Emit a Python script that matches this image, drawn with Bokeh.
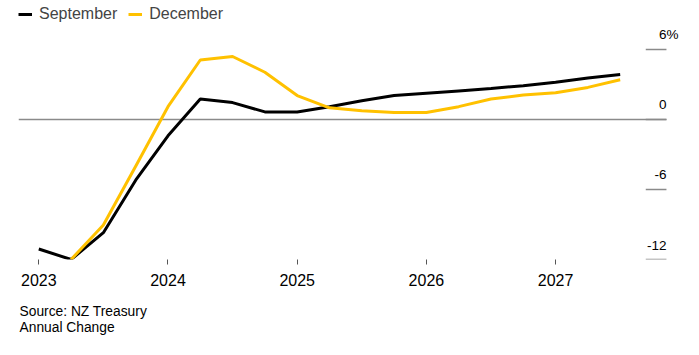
from bokeh.plotting import figure
from bokeh.models import (Range1d, FixedTicker, Legend, LegendItem,
                          LabelSet, ColumnDataSource, Title)
from bokeh.core.properties import value
from bokeh.embed import file_html
from bokeh.resources import INLINE

# ---- data ----
sep_x = [2023.0, 2023.25, 2023.5, 2023.75, 2024.0, 2024.25, 2024.5, 2024.75,
         2025.0, 2025.25, 2025.5, 2025.75, 2026.0, 2026.25, 2026.5, 2026.75,
         2027.0, 2027.25, 2027.5]
sep_y = [-11.1, -12.0, -9.7, -5.2, -1.4, 1.75, 1.45, 0.65,
         0.65, 1.1, 1.6, 2.05, 2.25, 2.45, 2.65, 2.9,
         3.2, 3.55, 3.85]
dec_x = [2023.25, 2023.5, 2023.75, 2024.0, 2024.25, 2024.5, 2024.75,
         2025.0, 2025.25, 2025.5, 2025.75, 2026.0, 2026.25, 2026.5, 2026.75,
         2027.0, 2027.25, 2027.5]
dec_y = [-12.0, -9.05, -4.0, 1.1, 5.1, 5.4, 4.05,
         2.05, 1.0, 0.75, 0.6, 0.6, 1.1, 1.75, 2.1,
         2.3, 2.75, 3.4]
x_ticks = [2023, 2024, 2025, 2026, 2027]
y_ticks = [6, 0, -6, -12]
y_tick_labels = ["6", "0", "-6", "-12"]
y_unit = "%"
series_names = ["September", "December"]
series_colors = ["#000000", "#FFC100"]
source_lines = ["Source: NZ Treasury", "Annual Change"]

FONT = "Liberation Sans"
GRAY = "#8a8a8a"
X0, X1 = 2022.843, 2027.990     # frame edges
X_AX = 2027.858                 # right edge of the value axis
TICK_LEN_YEARS = 0.160          # length of the value-axis tick marks
Y0, Y1 = -12.0, 9.771

p = figure(width=683, height=339, output_backend="svg", toolbar_location=None,
           x_range=Range1d(X0, X1), y_range=Range1d(Y0, Y1),
           y_axis_location=None, min_border_left=18, min_border_right=0,
           min_border_top=5, min_border_bottom=80)
p.outline_line_color = None
p.xgrid.visible = False
p.ygrid.visible = False

# zero line and value-axis tick marks
p.segment(x0=[X0], x1=[X_AX], y0=[0], y1=[0], line_color=GRAY, line_width=1.4)
p.segment(x0=[X_AX - TICK_LEN_YEARS] * len(y_ticks), x1=[X_AX] * len(y_ticks),
          y0=y_ticks, y1=y_ticks, line_color=GRAY, line_width=1.4)

r_sep = p.line(sep_x, sep_y, line_color=series_colors[0], line_width=3)
r_dec = p.line(dec_x, dec_y, line_color=series_colors[1], line_width=3)

# x axis
xa = p.xaxis[0]
xa.ticker = FixedTicker(ticks=x_ticks)
xa.minor_tick_line_color = None
xa.axis_line_color = None
xa.major_tick_in = 0
xa.major_tick_out = 5
xa.major_tick_line_color = "#555555"
xa.major_label_text_font = FONT
xa.major_label_text_font_size = "16px"
xa.major_label_text_color = "#000000"
xa.major_label_standoff = 9

# value labels above the tick marks
src = ColumnDataSource(dict(x=[X_AX] * len(y_ticks), y=y_ticks, t=y_tick_labels))
p.add_layout(LabelSet(x="x", y="y", text="t", source=src, text_align="right",
                      text_baseline="alphabetic", y_offset=10,
                      text_font=value(FONT), text_font_size=value("13.5px"),
                      text_color="#000000"))
unit_src = ColumnDataSource(dict(x=[X_AX], y=[y_ticks[0]], t=[y_unit]))
p.add_layout(LabelSet(x="x", y="y", text="t", source=unit_src, text_align="left",
                      text_baseline="alphabetic", y_offset=10,
                      text_font=value(FONT), text_font_size=value("13.5px"),
                      text_color="#000000"))

legend = Legend(items=[LegendItem(label=series_names[0], renderers=[r_sep]),
                       LegendItem(label=series_names[1], renderers=[r_dec])],
                orientation="horizontal", location="top_left",
                margin=0, padding=0, spacing=11, glyph_width=14, glyph_height=14,
                label_standoff=7, label_text_font=FONT, label_text_font_size="16px",
                background_fill_alpha=0, border_line_color=None)
p.add_layout(legend)

# source notes below the chart
for txt, stand in zip(source_lines, [30, -31]):
    p.add_layout(Title(text=txt, align="left", vertical_align="top", text_font=FONT,
                       text_font_size="13.8px", text_font_style="normal",
                       text_color="#000000", standoff=stand, offset=1), "below")

open("out.html", "w").write(file_html(p, INLINE))
